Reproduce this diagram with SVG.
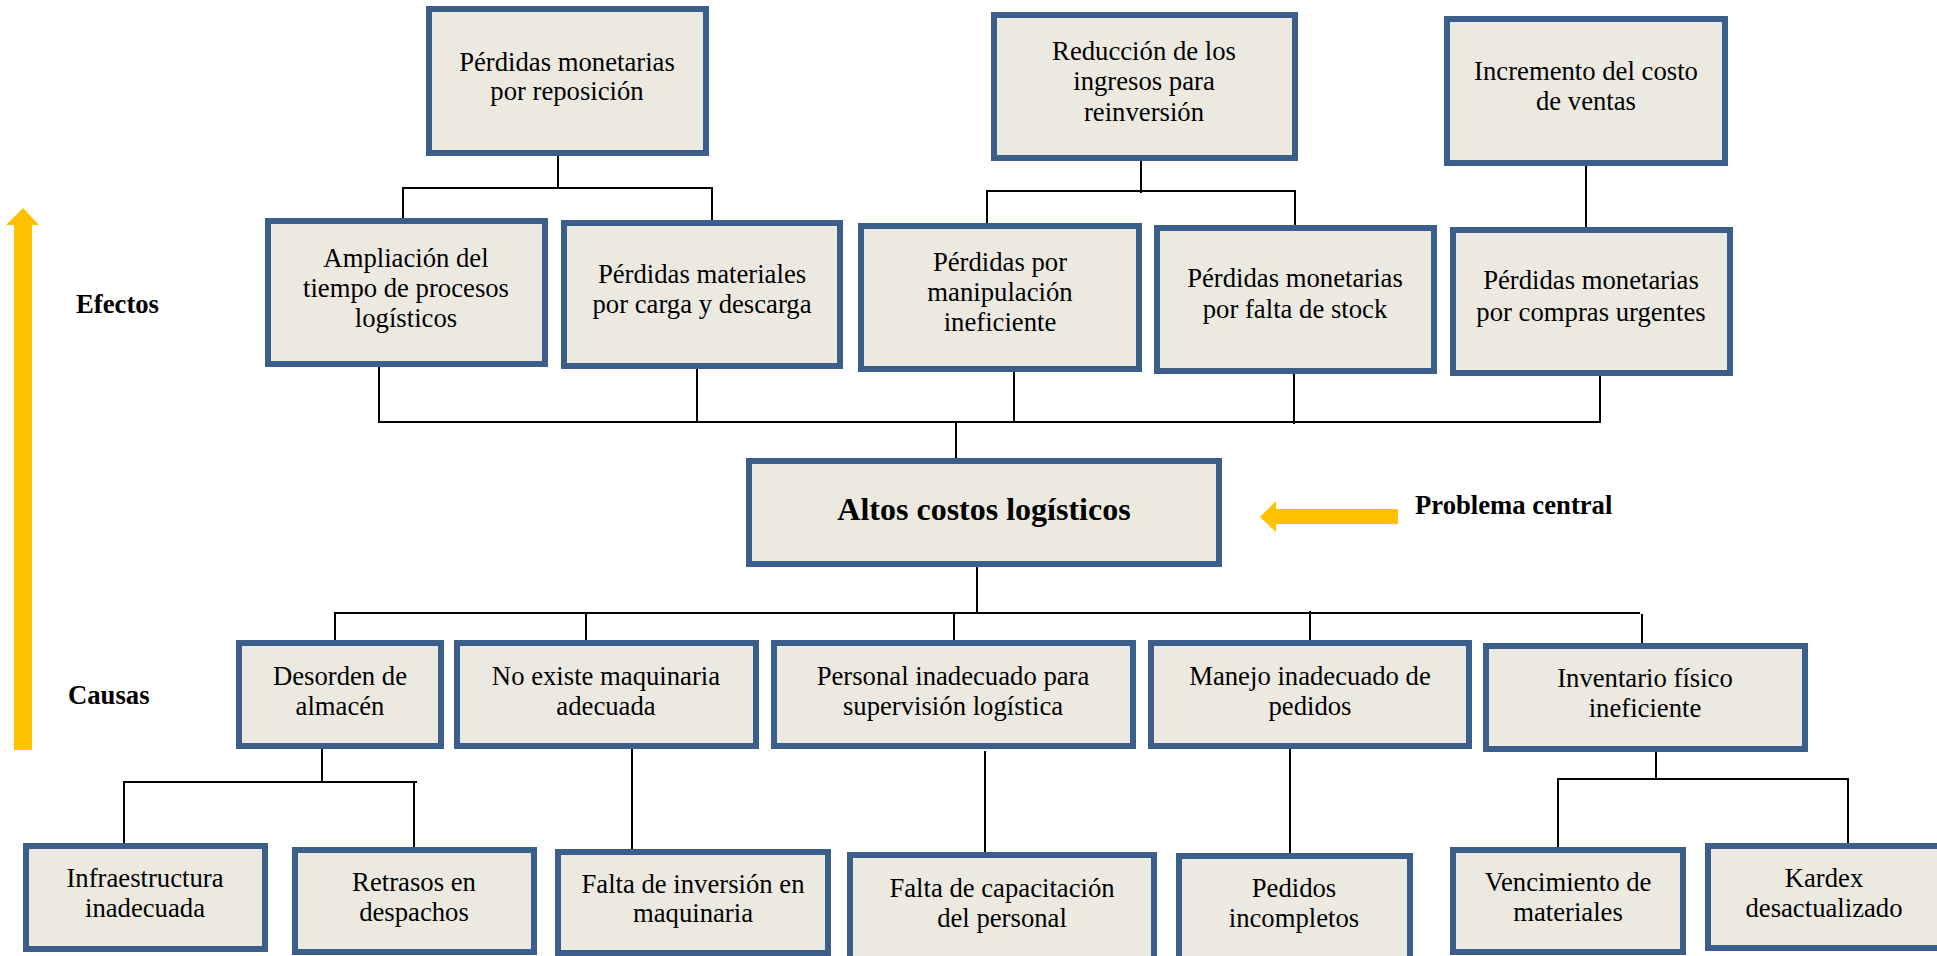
<svg xmlns="http://www.w3.org/2000/svg" width="1937" height="956" viewBox="0 0 1937 956">
  <style>
    .box { fill: #ECEAE0; stroke: #3C5E8B; stroke-width: 6; }
    .t { font-family: "Liberation Serif", "Times New Roman", serif; font-size: 26.7px; fill: #000; text-anchor: middle; }
    .lbl { font-family: "Liberation Serif", "Times New Roman", serif; font-size: 26.7px; font-weight: bold; fill: #000; }
    .main { font-family: "Liberation Serif", "Times New Roman", serif; font-size: 32px; font-weight: bold; fill: #000; text-anchor: middle; }
    .ln { stroke: #000; stroke-width: 2; fill: none; }
    .arrow { fill: #FFC000; }
  </style>
  <rect width="1937" height="956" fill="#FFFFFF"/>

  <!-- side labels and arrows -->
  <polygon class="arrow" points="23,208 39,225 32,225 32,750 14,750 14,225 6,225"/>
  <text class="lbl" x="76" y="313">Efectos</text>
  <text class="lbl" x="68" y="704">Causas</text>
  <polygon class="arrow" points="1260,517 1276,501 1276,509 1398,509 1398,524 1276,524 1276,532"/>
  <text class="lbl" x="1415" y="514">Problema central</text>

  <!-- connectors -->
  <g id="connectors">
    <path class="ln" d="M558,156 V188 M403,188 H712 M403,187 V220 M712,187 V222"/>
    <path class="ln" d="M1141,161 V193 M987,191 H1295 M987,190 V226 M1295,190 V227"/>
    <path class="ln" d="M1586,166 V229"/>
    <path class="ln" d="M379,422 H1601 M379,367 V423 M697,369 V423 M1014,372 V423 M1294,374 V424 M1600,376 V423 M956,422 V458"/>
    <path class="ln" d="M977,567 V614 M335,613 H1640 M335,612 V641 M586,614 V647 M954,614 V642 M1310,611 V642 M1642,614 V644"/>
    <path class="ln" d="M322,749 V783 M124,782 H417 M124,781 V844 H115 M414,781 V850"/>
    <path class="ln" d="M632,749 V849"/>
    <path class="ln" d="M985,751 V852"/>
    <path class="ln" d="M1290,749 V860"/>
    <path class="ln" d="M1656,752 V780 M1558,779 H1849 M1558,778 V847 M1848,778 V843"/>
  </g>

  <!-- effects -->
  <g id="e-reposicion">
    <rect class="box" x="429" y="9" width="277" height="144"/>
    <text class="t" x="567" y="71">Pérdidas monetarias</text>
    <text class="t" x="567" y="100">por reposición</text>
  </g>
  <g id="e-reduccion">
    <rect class="box" x="994" y="15" width="301" height="143"/>
    <text class="t" x="1144" y="60">Reducción de los</text>
    <text class="t" x="1144" y="90">ingresos para</text>
    <text class="t" x="1144" y="121">reinversión</text>
  </g>
  <g id="e-incremento">
    <rect class="box" x="1447" y="19" width="278" height="144"/>
    <text class="t" x="1586" y="80">Incremento del costo</text>
    <text class="t" x="1586" y="110">de ventas</text>
  </g>
  <g id="e-ampliacion">
    <rect class="box" x="268" y="221" width="277" height="143"/>
    <text class="t" x="406" y="267">Ampliación del</text>
    <text class="t" x="406" y="297">tiempo de procesos</text>
    <text class="t" x="406" y="327">logísticos</text>
  </g>
  <g id="e-materiales">
    <rect class="box" x="564" y="223" width="276" height="143"/>
    <text class="t" x="702" y="283">Pérdidas materiales</text>
    <text class="t" x="702" y="313">por carga y descarga</text>
  </g>
  <g id="e-manipulacion">
    <rect class="box" x="861" y="226" width="278" height="143"/>
    <text class="t" x="1000" y="271">Pérdidas por</text>
    <text class="t" x="1000" y="301">manipulación</text>
    <text class="t" x="1000" y="331">ineficiente</text>
  </g>
  <g id="e-stock">
    <rect class="box" x="1157" y="228" width="277" height="143"/>
    <text class="t" x="1295" y="287">Pérdidas monetarias</text>
    <text class="t" x="1295" y="318">por falta de stock</text>
  </g>
  <g id="e-urgentes">
    <rect class="box" x="1453" y="230" width="277" height="143"/>
    <text class="t" x="1591" y="289">Pérdidas monetarias</text>
    <text class="t" x="1591" y="321">por compras urgentes</text>
  </g>

  <!-- central problem -->
  <g id="problema">
    <rect class="box" x="749" y="461" width="470" height="103"/>
    <text class="main" x="984" y="520">Altos costos logísticos</text>
  </g>

  <!-- causes -->
  <g id="c-desorden">
    <rect class="box" x="239" y="643" width="202" height="103"/>
    <text class="t" x="340" y="685">Desorden de</text>
    <text class="t" x="340" y="715">almacén</text>
  </g>
  <g id="c-maquinaria">
    <rect class="box" x="457" y="643" width="299" height="103"/>
    <text class="t" x="606" y="685">No existe maquinaria</text>
    <text class="t" x="606" y="715">adecuada</text>
  </g>
  <g id="c-personal">
    <rect class="box" x="774" y="643" width="359" height="103"/>
    <text class="t" x="953" y="685">Personal inadecuado para</text>
    <text class="t" x="953" y="715">supervisión logística</text>
  </g>
  <g id="c-pedidos">
    <rect class="box" x="1151" y="643" width="318" height="103"/>
    <text class="t" x="1310" y="685">Manejo inadecuado de</text>
    <text class="t" x="1310" y="715">pedidos</text>
  </g>
  <g id="c-inventario">
    <rect class="box" x="1486" y="646" width="319" height="103"/>
    <text class="t" x="1645" y="687">Inventario físico</text>
    <text class="t" x="1645" y="717">ineficiente</text>
  </g>

  <!-- sub-causes -->
  <g id="s-infraestructura">
    <rect class="box" x="26" y="846" width="239" height="103"/>
    <text class="t" x="145" y="887">Infraestructura</text>
    <text class="t" x="145" y="917">inadecuada</text>
  </g>
  <g id="s-retrasos">
    <rect class="box" x="295" y="850" width="239" height="102"/>
    <text class="t" x="414" y="891">Retrasos en</text>
    <text class="t" x="414" y="921">despachos</text>
  </g>
  <g id="s-inversion">
    <rect class="box" x="558" y="852" width="270" height="101"/>
    <text class="t" x="693" y="893">Falta de inversión en</text>
    <text class="t" x="693" y="922">maquinaria</text>
  </g>
  <g id="s-capacitacion">
    <rect class="box" x="850" y="855" width="304" height="106"/>
    <text class="t" x="1002" y="897">Falta de capacitación</text>
    <text class="t" x="1002" y="927">del personal</text>
  </g>
  <g id="s-incompletos">
    <rect class="box" x="1179" y="856" width="231" height="105"/>
    <text class="t" x="1294" y="897">Pedidos</text>
    <text class="t" x="1294" y="927">incompletos</text>
  </g>
  <g id="s-vencimiento">
    <rect class="box" x="1453" y="850" width="230" height="102"/>
    <text class="t" x="1568" y="891">Vencimiento de</text>
    <text class="t" x="1568" y="921">materiales</text>
  </g>
  <g id="s-kardex">
    <rect class="box" x="1708" y="846" width="236" height="102"/>
    <text class="t" x="1824" y="887">Kardex</text>
    <text class="t" x="1824" y="917">desactualizado</text>
  </g>
</svg>
